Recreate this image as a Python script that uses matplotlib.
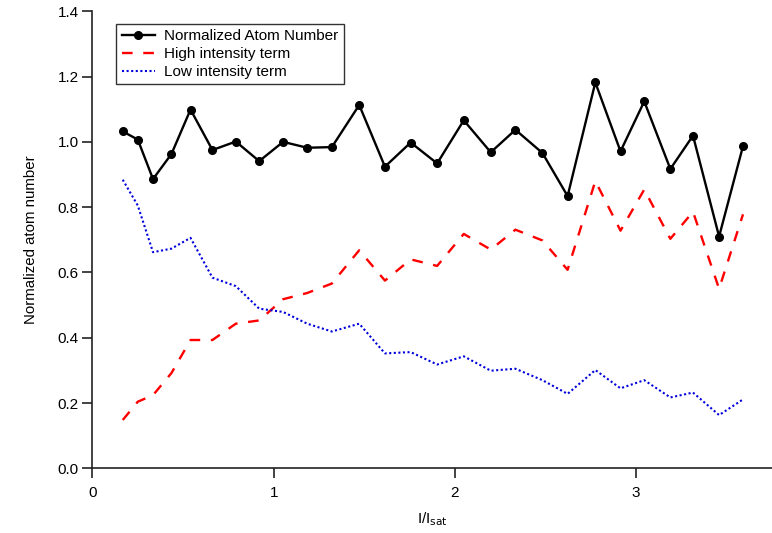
import matplotlib
matplotlib.use("Agg")
import matplotlib.pyplot as plt

plt.rcParams['font.family'] = ['Liberation Sans', 'DejaVu Sans']

# Saturation parameter I/Isat for each measurement
intensity = [0.167, 0.250, 0.334, 0.436, 0.541, 0.662, 0.791, 0.920, 1.052,
             1.185, 1.321, 1.472, 1.614, 1.756, 1.902, 2.049, 2.198, 2.334,
             2.483, 2.622, 2.775, 2.914, 3.045, 3.189, 3.314, 3.458, 3.590]

atom_number = [1.032, 1.007, 0.886, 0.963, 1.099, 0.975, 1.001, 0.941, 1.000,
               0.982, 0.984, 1.113, 0.924, 0.998, 0.934, 1.066, 0.968, 1.037,
               0.966, 0.834, 1.182, 0.971, 1.124, 0.917, 1.019, 0.710, 0.987]

high_term = [0.148, 0.204, 0.224, 0.292, 0.393, 0.393, 0.443, 0.453, 0.518,
             0.537, 0.566, 0.668, 0.575, 0.640, 0.620, 0.718, 0.670, 0.731,
             0.698, 0.608, 0.880, 0.728, 0.854, 0.703, 0.786, 0.550, 0.778]

low_term = [0.884, 0.805, 0.662, 0.673, 0.706, 0.584, 0.558, 0.489, 0.479,
            0.443, 0.419, 0.443, 0.352, 0.356, 0.318, 0.343, 0.299, 0.305,
            0.270, 0.228, 0.301, 0.245, 0.270, 0.217, 0.232, 0.163, 0.211]

x_ticks = [0, 1, 2, 3]
y_ticks = [0.0, 0.2, 0.4, 0.6, 0.8, 1.0, 1.2, 1.4]

fig = plt.figure(figsize=(7.72, 5.33), dpi=100)
ax = fig.add_axes([0.1198, 0.1214, 0.8802, 0.8574])

ax.plot(intensity, atom_number, color='black', lw=1.7, marker='o', ms=5.5,
        label='Normalized Atom Number')
ax.plot(intensity, high_term, color='#ff0000', lw=1.7, ls=(0, (4.5, 4.5)),
        label='High intensity term')
ax.plot(intensity, low_term, color='#0000dd', lw=1.5, ls=(0, (1, 1.2)),
        label='Low intensity term')

ax.set_xlim(0, 3.75)
ax.set_ylim(0, 1.4)
ax.set_xticks(x_ticks)
ax.set_xticklabels([str(t) for t in x_ticks])
ax.set_yticks(y_ticks)
ax.set_yticklabels([f'{t:.1f}' for t in y_ticks])

for side in ('top', 'right'):
    ax.spines[side].set_visible(False)
for side in ('left', 'bottom'):
    ax.spines[side].set_linewidth(1.2)
    ax.spines[side].set_color('#222222')

ax.tick_params(direction='out', length=7, width=1.2, labelsize=11, pad=3,
               color='#222222')
ax.tick_params(axis='x', pad=6)
ax.set_xlabel('I/I$_{\\mathrm{sat}}$', fontsize=11, labelpad=7)
ax.set_ylabel('Normalized atom number', fontsize=10.8, labelpad=14)

leg = ax.legend(loc='upper left', bbox_to_anchor=(0.035, 0.973), fontsize=11,
                frameon=True, fancybox=False, edgecolor='black',
                borderpad=0.35, handlelength=2.2, handletextpad=0.6,
                labelspacing=0.26, borderaxespad=0)
leg.get_frame().set_linewidth(1.0)

fig.savefig('out.png', dpi=100)
